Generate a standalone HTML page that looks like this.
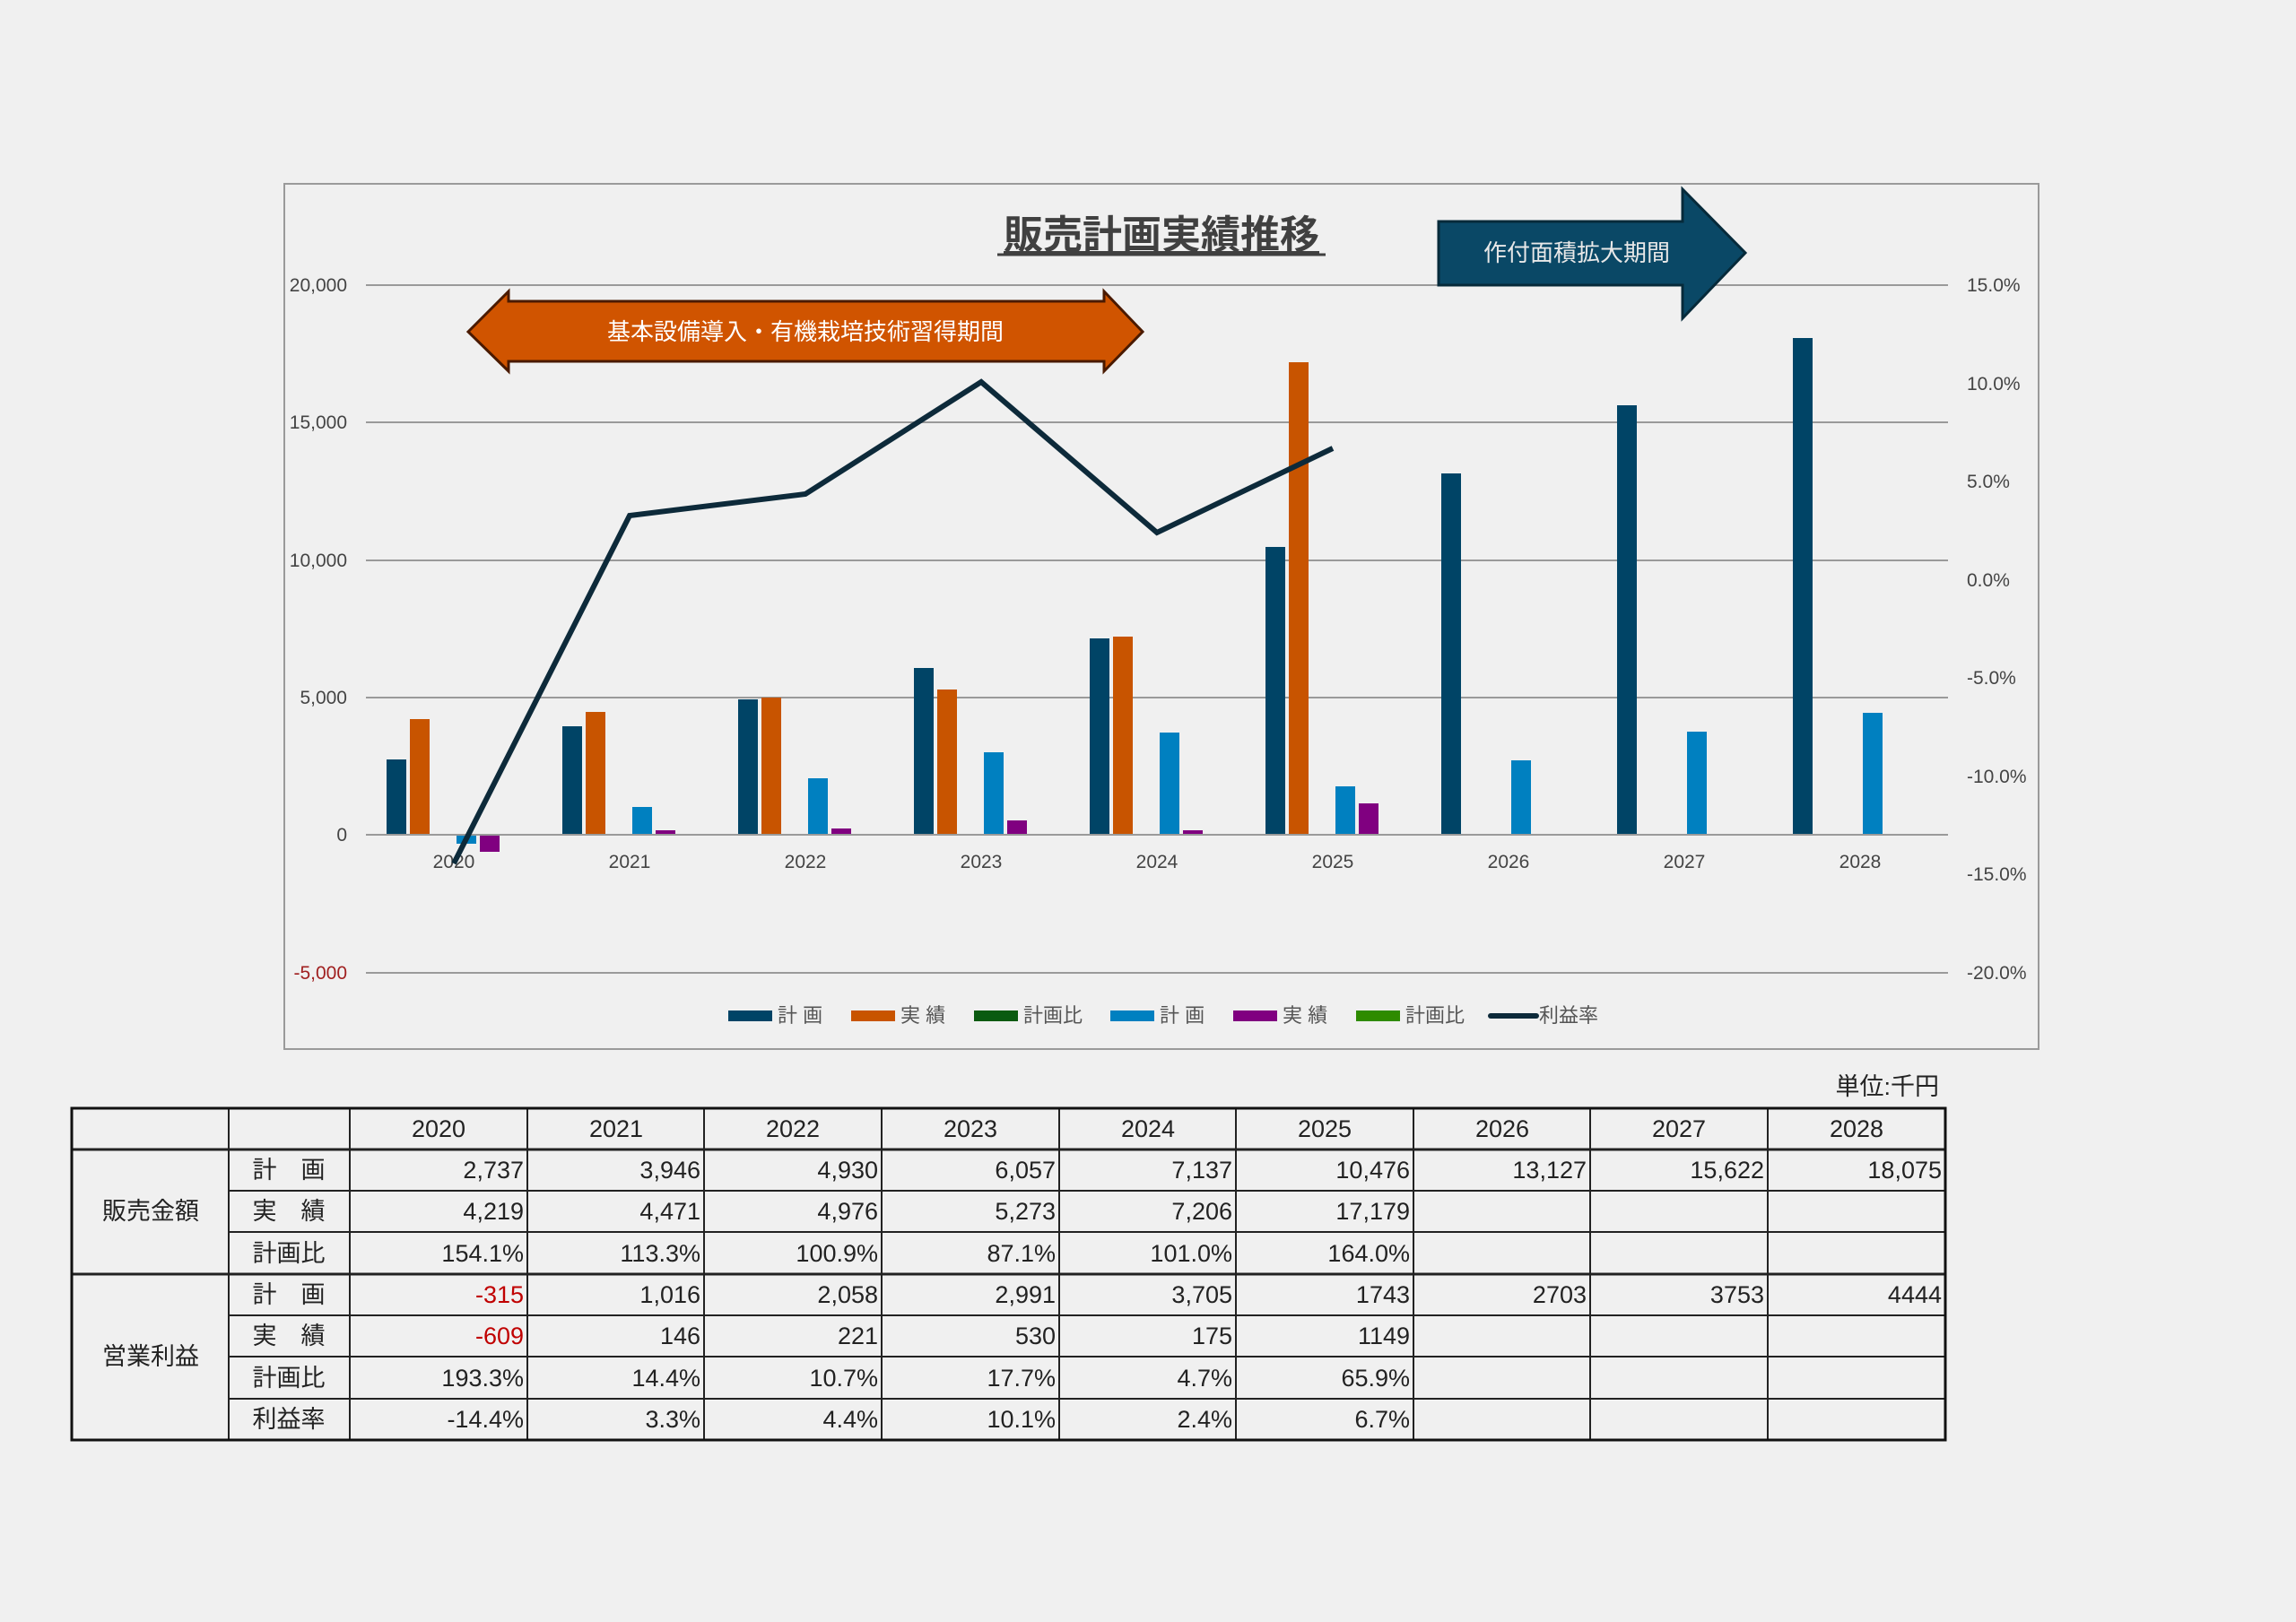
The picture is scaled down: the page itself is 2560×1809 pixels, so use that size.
<!DOCTYPE html>
<html><head><meta charset="utf-8"><style>
html,body{margin:0;padding:0;background:#f0f0f0;}
svg{display:block;}
text{font-family:"Liberation Sans","Noto Sans CJK JP",sans-serif;}
.t{font-family:"Liberation Sans Narrow","Liberation Sans","Noto Sans CJK JP",sans-serif;font-size:27px;fill:#222;}
.ax{font-size:21px;fill:#444;}
</style></head><body>
<svg width="2560" height="1809" viewBox="0 0 2560 1809" xmlns="http://www.w3.org/2000/svg">
<rect width="2560" height="1809" fill="#f0f0f0"/>
<rect x="317" y="205" width="1956" height="965" fill="#f0f0f0" stroke="#9a9a9a" stroke-width="2"/>
<!-- gridlines -->
<g stroke="#9a9a9a" stroke-width="2">
<line x1="408" y1="318" x2="2172" y2="318"/>
<line x1="408" y1="471" x2="2172" y2="471"/>
<line x1="408" y1="625" x2="2172" y2="625"/>
<line x1="408" y1="778" x2="2172" y2="778"/>
<line x1="408" y1="1085" x2="2172" y2="1085"/>
</g>
<!-- left axis labels -->
<g class="ax" text-anchor="end">
<text x="387" y="325">20,000</text>
<text x="387" y="478">15,000</text>
<text x="387" y="632">10,000</text>
<text x="387" y="785">5,000</text>
<text x="387" y="938">0</text>
<text x="387" y="1092" fill="#a02020">-5,000</text>
</g>
<g class="ax">
<text x="2193" y="325">15.0%</text>
<text x="2193" y="435">10.0%</text>
<text x="2193" y="544">5.0%</text>
<text x="2193" y="654">0.0%</text>
<text x="2193" y="763">-5.0%</text>
<text x="2193" y="873">-10.0%</text>
<text x="2193" y="982">-15.0%</text>
<text x="2193" y="1092">-20.0%</text>
</g>
<!-- bars -->
<g fill="#004466">
<rect x="431" y="847" width="22" height="84"/>
<rect x="627" y="810" width="22" height="121"/>
<rect x="823" y="780" width="22" height="151"/>
<rect x="1019" y="745" width="22" height="186"/>
<rect x="1215" y="712" width="22" height="219"/>
<rect x="1411" y="610" width="22" height="321"/>
<rect x="1607" y="528" width="22" height="403"/>
<rect x="1803" y="452" width="22" height="479"/>
<rect x="1999" y="377" width="22" height="554"/>
</g>
<g fill="#c85400">
<rect x="457" y="802" width="22" height="129"/>
<rect x="653" y="794" width="22" height="137"/>
<rect x="849" y="778" width="22" height="153"/>
<rect x="1045" y="769" width="22" height="162"/>
<rect x="1241" y="710" width="22" height="221"/>
<rect x="1437" y="404" width="22" height="527"/>
</g>
<g fill="#0080c0">
<rect x="509" y="931" width="22" height="10"/>
<rect x="705" y="900" width="22" height="31"/>
<rect x="901" y="868" width="22" height="63"/>
<rect x="1097" y="839" width="22" height="92"/>
<rect x="1293" y="817" width="22" height="114"/>
<rect x="1489" y="877" width="22" height="54"/>
<rect x="1685" y="848" width="22" height="83"/>
<rect x="1881" y="816" width="22" height="115"/>
<rect x="2077" y="795" width="22" height="136"/>
</g>
<g fill="#800080">
<rect x="535" y="931" width="22" height="19"/>
<rect x="731" y="926" width="22" height="5"/>
<rect x="927" y="924" width="22" height="7"/>
<rect x="1123" y="915" width="22" height="16"/>
<rect x="1319" y="926" width="22" height="5"/>
<rect x="1515" y="896" width="22" height="35"/>
</g>
<line x1="408" y1="931" x2="2172" y2="931" stroke="#9a9a9a" stroke-width="2"/>
<!-- category labels -->
<g class="ax" text-anchor="middle">
<text x="506" y="968">2020</text><text x="702" y="968">2021</text><text x="898" y="968">2022</text>
<text x="1094" y="968">2023</text><text x="1290" y="968">2024</text><text x="1486" y="968">2025</text>
<text x="1682" y="968">2026</text><text x="1878" y="968">2027</text><text x="2074" y="968">2028</text>
</g>
<!-- line -->
<polyline points="506,963 702,575 898,551 1094,426 1290,594 1486,500" fill="none" stroke="#0d2a3a" stroke-width="6" stroke-linejoin="miter"/>
<!-- title -->
<text x="1295" y="277" text-anchor="middle" font-size="44" font-weight="bold" fill="#404040" text-decoration="underline">販売計画実績推移</text>
<line x1="1112" y1="284" x2="1478" y2="284" stroke="#404040" stroke-width="3"/>
<!-- orange double arrow -->
<polygon points="522,370 567,325 567,336 1231,336 1231,325 1274,370 1231,414 1231,403 567,403 567,414" fill="#d05400" stroke="#4a1a00" stroke-width="3"/>
<text x="898" y="379" text-anchor="middle" font-size="26" fill="#ffffff">基本設備導入・有機栽培技術習得期間</text>
<!-- dark arrow -->
<polygon points="1604,247 1876,247 1876,211 1946,282 1876,355 1876,318 1604,318" fill="#0a4866" stroke="#062a3a" stroke-width="3"/>
<text x="1758" y="291" text-anchor="middle" font-size="26" fill="#e8e8e8">作付面積拡大期間</text>
<!-- legend -->
<g font-size="22" fill="#555">
<rect x="812" y="1127" width="49" height="12" fill="#004466"/><text x="867" y="1140">計 画</text>
<rect x="949" y="1127" width="49" height="12" fill="#c85400"/><text x="1004" y="1140">実 績</text>
<rect x="1086" y="1127" width="49" height="12" fill="#0a5a10"/><text x="1141" y="1140">計画比</text>
<rect x="1238" y="1127" width="49" height="12" fill="#0080c0"/><text x="1293" y="1140">計 画</text>
<rect x="1375" y="1127" width="49" height="12" fill="#800080"/><text x="1430" y="1140">実 績</text>
<rect x="1512" y="1127" width="49" height="12" fill="#2e8b00"/><text x="1567" y="1140">計画比</text>
<line x1="1662" y1="1133" x2="1713" y2="1133" stroke="#0d2a3a" stroke-width="6" stroke-linecap="round"/><text x="1716" y="1140">利益率</text>
</g>
<!-- table -->
<text x="2162" y="1221" text-anchor="end" class="t" font-size="25">単位:千円</text>
<g stroke="#222" stroke-width="2">
<line x1="255" y1="1236" x2="255" y2="1606"/>
<line x1="390" y1="1236" x2="390" y2="1606"/>
<line x1="588" y1="1236" x2="588" y2="1606"/>
<line x1="785" y1="1236" x2="785" y2="1606"/>
<line x1="983" y1="1236" x2="983" y2="1606"/>
<line x1="1181" y1="1236" x2="1181" y2="1606"/>
<line x1="1378" y1="1236" x2="1378" y2="1606"/>
<line x1="1576" y1="1236" x2="1576" y2="1606"/>
<line x1="1773" y1="1236" x2="1773" y2="1606"/>
<line x1="1971" y1="1236" x2="1971" y2="1606"/>
<line x1="80" y1="1282" x2="2169" y2="1282" stroke-width="3"/>
<line x1="255" y1="1328" x2="2169" y2="1328"/>
<line x1="255" y1="1374" x2="2169" y2="1374"/>
<line x1="80" y1="1421" x2="2169" y2="1421" stroke-width="3"/>
<line x1="255" y1="1467" x2="2169" y2="1467"/>
<line x1="255" y1="1513" x2="2169" y2="1513"/>
<line x1="255" y1="1560" x2="2169" y2="1560"/>
</g>
<rect x="80" y="1236" width="2089" height="370" fill="none" stroke="#111" stroke-width="3"/>
<g class="t" text-anchor="middle">
<text x="489" y="1268">2020</text><text x="687" y="1268">2021</text><text x="884" y="1268">2022</text>
<text x="1082" y="1268">2023</text><text x="1280" y="1268">2024</text><text x="1477" y="1268">2025</text>
<text x="1675" y="1268">2026</text><text x="1872" y="1268">2027</text><text x="2070" y="1268">2028</text>
<text x="168" y="1360">販売金額</text><text x="168" y="1522">営業利益</text>
<text x="322" y="1314">計　画</text><text x="322" y="1360">実　績</text><text x="322" y="1407">計画比</text>
<text x="322" y="1453">計　画</text><text x="322" y="1499">実　績</text><text x="322" y="1546">計画比</text><text x="322" y="1592">利益率</text>
</g>
<g class="t" text-anchor="end">
<text x="584" y="1314">2,737</text><text x="781" y="1314">3,946</text><text x="979" y="1314">4,930</text><text x="1177" y="1314">6,057</text><text x="1374" y="1314">7,137</text><text x="1572" y="1314">10,476</text><text x="1769" y="1314">13,127</text><text x="1967" y="1314">15,622</text><text x="2165" y="1314">18,075</text>
<text x="584" y="1360">4,219</text><text x="781" y="1360">4,471</text><text x="979" y="1360">4,976</text><text x="1177" y="1360">5,273</text><text x="1374" y="1360">7,206</text><text x="1572" y="1360">17,179</text>
<text x="584" y="1407">154.1%</text><text x="781" y="1407">113.3%</text><text x="979" y="1407">100.9%</text><text x="1177" y="1407">87.1%</text><text x="1374" y="1407">101.0%</text><text x="1572" y="1407">164.0%</text>
<text x="584" y="1453" fill="#c00000">-315</text><text x="781" y="1453">1,016</text><text x="979" y="1453">2,058</text><text x="1177" y="1453">2,991</text><text x="1374" y="1453">3,705</text><text x="1572" y="1453">1743</text><text x="1769" y="1453">2703</text><text x="1967" y="1453">3753</text><text x="2165" y="1453">4444</text>
<text x="584" y="1499" fill="#c00000">-609</text><text x="781" y="1499">146</text><text x="979" y="1499">221</text><text x="1177" y="1499">530</text><text x="1374" y="1499">175</text><text x="1572" y="1499">1149</text>
<text x="584" y="1546">193.3%</text><text x="781" y="1546">14.4%</text><text x="979" y="1546">10.7%</text><text x="1177" y="1546">17.7%</text><text x="1374" y="1546">4.7%</text><text x="1572" y="1546">65.9%</text>
<text x="584" y="1592">-14.4%</text><text x="781" y="1592">3.3%</text><text x="979" y="1592">4.4%</text><text x="1177" y="1592">10.1%</text><text x="1374" y="1592">2.4%</text><text x="1572" y="1592">6.7%</text>
</g>
</svg>
</body></html>
